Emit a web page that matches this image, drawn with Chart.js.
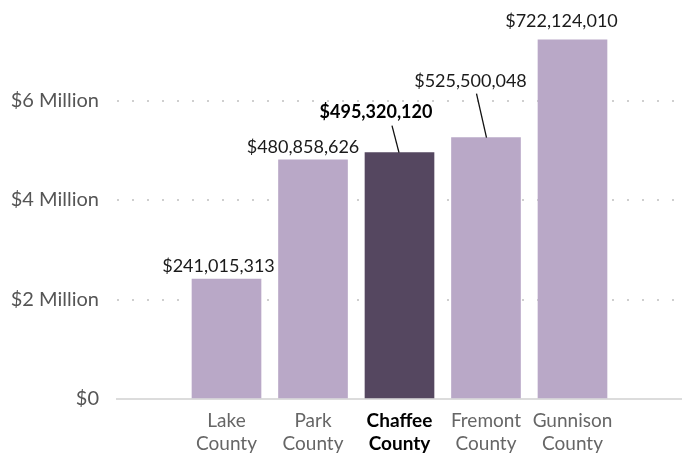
<!DOCTYPE html>
<html>
<head>
<meta charset="utf-8">
<script src="https://cdn.jsdelivr.net/npm/chart.js@4/dist/chart.umd.min.js"></script>
<style>
  html, body { margin: 0; padding: 0; background: #fff; }
  canvas { display: block; }
</style>
</head>
<body>
<canvas id="chart" width="682" height="454"></canvas>
<script>
// 各郡數值
const counties = [['Lake', 'County'], ['Park', 'County'], ['Chaffee', 'County'], ['Fremont', 'County'], ['Gunnison', 'County']];
const values = [241015313, 480858626, 495320120, 525500048, 722124010];
const highlight = 2; // Chaffee
const yTicks = [0, 200000000, 400000000, 600000000];
const yTickLabels = ['$0', '$2 Million', '$4 Million', '$6 Million'];

// 標籤位置（相對於長條頂端中心）
const labelLayout = [
    { dx: -8, dy: -13 },
    { dx: -10, dy: -13 },
    { dx: -23.5, dy: -40, line: [-7.5, -27, -0.5, 0] },
    { dx: -15.5, dy: -56, line: [-9.5, -44, 0.5, 0] },
    { dx: -11, dy: -19 },
];

const LIGHT = '#b9a8c7';
const DARK = '#554760';

const valueLabels = {
    id: 'valueLabels',
    afterDatasetsDraw(chart) {
        const ctx = chart.ctx;
        const meta = chart.getDatasetMeta(0);
        ctx.save();
        meta.data.forEach((bar, i) => {
            const lay = labelLayout[i];
            if (lay.line) {
                ctx.beginPath();
                ctx.moveTo(bar.x + lay.line[0], bar.y + lay.line[1]);
                ctx.lineTo(bar.x + lay.line[2], bar.y + lay.line[3]);
                ctx.strokeStyle = '#111';
                ctx.lineWidth = 1.3;
                ctx.stroke();
            }
            ctx.font = (i === highlight ? 'bold ' : '') + '18px Lato';
            ctx.fillStyle = i === highlight ? '#000' : '#1a1a1a';
            ctx.textAlign = 'center';
            ctx.textBaseline = 'middle';
            ctx.fillText('$' + values[i].toLocaleString('en-US'), bar.x + lay.dx, bar.y + lay.dy);
        });
        ctx.restore();
    }
};

new Chart(document.getElementById('chart'), {
    type: 'bar',
    data: {
        datasets: [{
            data: values.map((v, i) => ({ x: i, y: v })),
            backgroundColor: values.map((v, i) => i === highlight ? DARK : LIGHT),
            barThickness: 69,
            borderWidth: 0,
        }]
    },
    options: {
        responsive: false,
        animation: false,
        layout: { padding: { top: 1, right: 0, left: 0, bottom: 0 } },
        plugins: { legend: { display: false }, tooltip: { enabled: false } },
        scales: {
            x: {
                type: 'linear',
                offset: false,
                min: -1.266,
                max: 5.266,
                afterBuildTicks: s => { s.ticks = counties.map((c, i) => ({ value: i })); },
                afterFit: s => { s.height = 55; s.paddingLeft = 0; s.paddingRight = 0; },
                grid: { display: false, drawTicks: false },
                border: { display: true, color: '#dcdcdc', width: 2 },
                ticks: {
                    autoSkip: false,
                    maxRotation: 0,
                    padding: 10,
                    callback: v => counties[v],
                    color: c => c.index === highlight ? '#000' : '#666',
                    font: c => ({ family: 'Lato', size: 19, lineHeight: 1.24, weight: c.index === highlight ? 'bold' : 'normal' }),
                }
            },
            y: {
                min: 0,
                max: 800000000,
                afterBuildTicks: s => { s.ticks = yTicks.map(v => ({ value: v })); },
                afterFit: s => { s.width = 117; s.paddingTop = 0; s.paddingBottom = 0; },
                grid: {
                    drawTicks: false,
                    lineWidth: 2,
                    color: c => c.tick && c.tick.value === 0 ? 'rgba(0,0,0,0)' : '#cfcfcf',
                },
                border: { display: false, dash: [2, 13] },
                ticks: {
                    padding: 18,
                    color: '#555',
                    font: { family: 'Lato', size: 20 },
                    callback: (v, i) => yTickLabels[i],
                }
            }
        }
    },
    plugins: [valueLabels]
});
</script>
</body>
</html>
